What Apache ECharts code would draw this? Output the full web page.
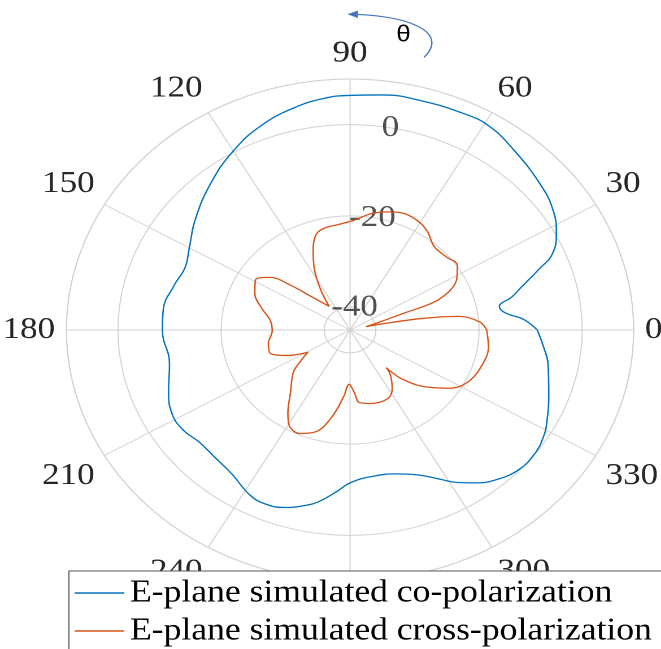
<!DOCTYPE html>
<html><head><meta charset="utf-8">
<script src="https://cdn.jsdelivr.net/npm/echarts@6/dist/echarts.min.js"></script>
<style>
html,body{margin:0;padding:0;background:#fff;overflow:hidden;}
#chart{width:585px;height:649px;transform:scaleX(1.13);transform-origin:0 0;}
</style></head><body>
<div id="chart"></div>
<script>
// E-plane simulated co-polarization (theta in degrees, gain in dB)
const coAngles = [0, 4, 7, 10, 13, 16, 20, 23, 28, 34, 41, 51, 59, 65, 75, 83, 90, 95, 102, 111, 120, 130, 141, 150, 157, 164, 173, 180, 192, 201, 208, 214, 220, 227, 234, 242, 247, 252, 257, 261, 266, 270, 277, 286, 292, 298, 302, 306, 311, 317, 323, 328, 332, 340, 349, 354, 360];
const coValues = [-8.7, -11.3, -14.6, -15.6, -12.8, -10.3, -6.0, -2.4, 0.3, 2.4, 3.8, 5.6, 7.2, 7.3, 7.1, 6.9, 6.4, 6.1, 5.0, 3.0, 0.3, -3.0, -6.4, -9.0, -10.2, -9.5, -8.5, -8.6, -9.2, -7.3, -5.9, -5.9, -6.8, -6.7, -6.0, -3.9, -3.5, -4.1, -5.5, -7.0, -9.6, -11.5, -12.6, -12.2, -10.8, -8.0, -5.6, -3.6, -1.6, -0.2, -0.1, -0.8, -1.8, -4.0, -5.9, -7.2, -8.7];
// E-plane simulated cross-polarization
const xpAngles = [0, 4, 8, 10.3, 12.4, 13.3, 17.6, 19.3, 20.6, 24.3, 29, 34.4, 40.6, 48.3, 54.9, 60.5, 67.5, 74.2, 81, 88, 96, 102.3, 107.3, 111.9, 117.5, 122.9, 128, 135.5, 139.5, 143.3, 148.9, 156.8, 164.4, 172.4, 180.7, 190.3, 198.3, 204.6, 210.8, 214.7, 219.9, 229.8, 236.4, 240.5, 246.7, 253.6, 259.6, 265.2, 269.1, 273.4, 276.4, 284.1, 296, 302.5, 308.8, 310.3, 312.8, 318.3, 326.8, 333.3, 341.8, 352, 360];
const xpValues = [-18.5, -19.8, -23.6, -31.0, -39.2, -41.8, -38.2, -34.7, -27.6, -23.6, -21.3, -19.8, -20.4, -20.5, -18.8, -17.8, -17.4, -18.1, -19.2, -20.9, -21.8, -22.1, -23.0, -25.8, -30.0, -34.5, -38.4, -34.7, -30.0, -25.7, -23.6, -24.9, -27.2, -29.4, -29.9, -28.9, -28.7, -31.6, -35.5, -33.6, -30.7, -27.1, -23.2, -21.0, -20.3, -21.8, -25.7, -30.4, -33.1, -31.3, -29.0, -28.4, -28.3, -29.8, -32.6, -34.2, -30.6, -26.5, -21.7, -19.5, -18.4, -17.9, -18.5];
const radialTicks = [-40, -20, 0];
const rMin = -45, rMax = 10, rStep = 5;
const radialLabelAngle = 80;
const seriesNames = ['E-plane simulated co-polarization', 'E-plane simulated cross-polarization'];

const GRID = '#d2d2d2';
const TXT = '#262626';
const FONT = 'Liberation Serif';
const ringColors = [];
for (let v = rMin; v <= rMax + 1e-9; v += rStep) {
  ringColors.push(radialTicks.indexOf(v) >= 0 || v === rMax ? GRID : 'rgba(0,0,0,0)');
}

const chart = echarts.init(document.getElementById('chart'), null, {renderer: 'canvas', devicePixelRatio: 2});
chart.setOption({
  animation: false,
  backgroundColor: '#fff',
  polar: {center: [309.8, 330], radius: 251},
  angleAxis: {
    type: 'value', min: 0, max: 360, interval: 30, startAngle: 0, clockwise: false,
    axisLine: {show: true, lineStyle: {color: GRID, width: 1}},
    axisTick: {show: false},
    splitLine: {show: true, lineStyle: {color: GRID, width: 1}},
    axisLabel: {
      margin: 10, fontSize: 31, fontFamily: FONT, color: TXT,
      formatter: v => (v === 360 ? '' : String(v))
    }
  },
  radiusAxis: {
    type: 'value', min: rMin, max: rMax, interval: rStep,
    axisLine: {show: false}, axisTick: {show: false}, axisLabel: {show: false},
    splitLine: {show: true, lineStyle: {color: ringColors, width: 1}}
  },
  legend: {
    orient: 'vertical', left: 61, top: 571, height: 90,
    padding: [6, 14, 5, 5], itemGap: 6, itemWidth: 44, itemHeight: 1.6,
    backgroundColor: '#fff', borderColor: '#555', borderWidth: 1,
    textStyle: {fontSize: 31.5, fontFamily: FONT, color: '#000', lineHeight: 30},
    data: [{name: seriesNames[0], icon: 'rect'}, {name: seriesNames[1], icon: 'rect'}]
  },
  graphic: [
    {type: 'bezierCurve', shape: {x1: 375.2, y1: 57.3, cpx1: 395, cpy1: 36, cpx2: 372, cpy2: 17, x2: 314, y2: 14.3},
     style: {stroke: '#4472C4', lineWidth: 1.2, fill: null}},
    {type: 'polygon', shape: {points: [[307.5, 14.3], [317, 10.5], [316.5, 18]]}, style: {fill: '#4472C4'}},
    {type: 'text', x: 357, y: 35, style: {text: 'θ', fontSize: 23, fontFamily: 'Liberation Sans', fill: '#000', align: 'center', verticalAlign: 'middle'}}
  ],
  series: [
    {
      name: seriesNames[0], type: 'line', coordinateSystem: 'polar', smooth: 0.45, symbol: 'none',
      lineStyle: {color: '#0072BD', width: 1.3}, itemStyle: {color: '#0072BD'}, z: 3,
      data: coAngles.map((a, i) => [coValues[i], a])
    },
    {
      name: seriesNames[1], type: 'line', coordinateSystem: 'polar', smooth: 0.35, symbol: 'none',
      lineStyle: {color: '#D95319', width: 1.3}, itemStyle: {color: '#D95319'}, z: 3,
      data: xpAngles.map((a, i) => [xpValues[i], a])
    },
    {
      name: 'rticks', type: 'scatter', coordinateSystem: 'polar', symbolSize: 0.01,
      itemStyle: {color: 'rgba(0,0,0,0)'}, silent: true, z: 2,
      label: {show: true, position: 'inside', fontSize: 31, fontFamily: FONT, color: TXT,
        formatter: p => String(p.value[0])},
      data: radialTicks.map(v => [v, radialLabelAngle])
    }
  ]
});
</script>
</body></html>
